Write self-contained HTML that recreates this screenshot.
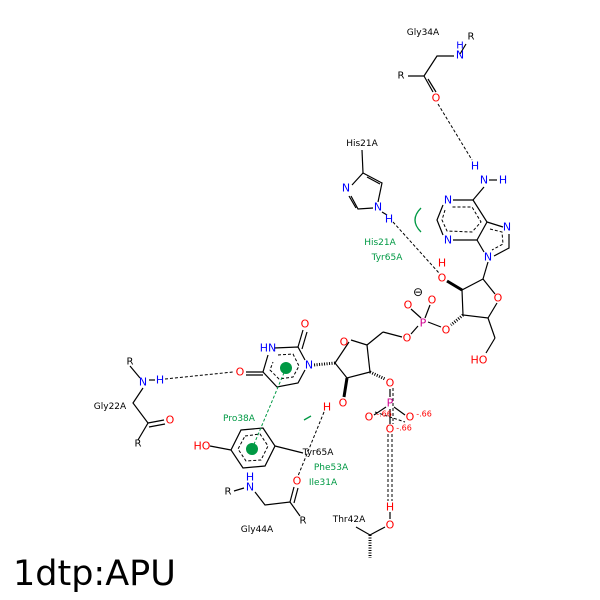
<!DOCTYPE html>
<html><head><meta charset="utf-8"><style>
html,body{margin:0;padding:0;background:#fff}
svg{display:block}
text{font-family:"DejaVu Sans","Liberation Sans",sans-serif}
.a{font-size:11px;text-anchor:middle;dominant-baseline:central}
.l{font-size:9px;text-anchor:middle;dominant-baseline:central}
.r{fill:#f00}.b{fill:#00f}.g{fill:#009944}.p{fill:#d0008f}
</style></head><body>
<svg width="600" height="600" viewBox="0 0 600 600" xmlns="http://www.w3.org/2000/svg">
<g stroke="#000" stroke-width="1.2" fill="none">
<polyline points="466,44 460,54"/><polyline points="454,56 437,56 424,76 408,76"/>
<line x1="424" y1="76" x2="433" y2="92"/><line x1="428" y1="79" x2="436" y2="92"/>
<line x1="484" y1="187" x2="473" y2="200"/><line x1="489" y1="180" x2="497" y2="180"/>
<polyline points="473,200 453,200"/><polyline points="443,205 437,220 443,235"/>
<polyline points="453,240 477,240 487,222 473,200"/>
<polyline points="487,222 503,227"/><polyline points="509,234 509,248 494,256"/><line x1="477" y1="240" x2="484" y2="252"/>
<line x1="488" y1="262" x2="483" y2="279"/>
<polyline points="483,279 495,294"/><polyline points="497,303 488,318 463,315 462,290 483,279"/>
<line x1="488" y1="318" x2="495" y2="338"/><line x1="495" y1="338" x2="486" y2="353"/>
<line x1="462" y1="290" x2="447" y2="281" stroke-width="3"/>
<line x1="463" y1="315" x2="451" y2="325" stroke-dasharray="1,1.5" stroke-width="3"/>
<line x1="441" y1="327" x2="428" y2="322"/>
<line x1="418" y1="326" x2="411" y2="334"/><line x1="421" y1="318" x2="411" y2="309"/><line x1="425" y1="318" x2="430" y2="305"/>
<line x1="402" y1="337" x2="383" y2="332"/>
<polyline points="383,332 367,345"/>
<polyline points="349,342 335,363 347,378 370,372 367,345 351,340"/>
<line x1="335" y1="363" x2="314" y2="365" stroke-dasharray="1,1.5" stroke-width="3"/>
<line x1="347" y1="378" x2="344" y2="397" stroke-width="3"/>
<line x1="370" y1="372" x2="385" y2="379" stroke-dasharray="1,1.5" stroke-width="3"/>
<polyline points="305,360 298,347 274,348"/><line x1="298" y1="347" x2="303" y2="330"/><line x1="302" y1="349" x2="307" y2="332"/>
<polyline points="268,355 263,372 277,387 298,383 305,370"/>
<line x1="263" y1="372" x2="246" y2="372"/><line x1="263" y1="375" x2="246" y2="375"/>
<line x1="130" y1="366" x2="140" y2="378"/><line x1="149" y1="380" x2="155" y2="380"/>
<polyline points="143,388 133,403 148,423 138,440"/><line x1="148" y1="423" x2="164" y2="420"/><line x1="149" y1="427" x2="165" y2="424"/>
<polygon points="241,430 263,428 275,446 265,466 243,468 231,450"/>
<line x1="231" y1="450" x2="210" y2="446"/><line x1="275" y1="446" x2="303" y2="453"/>
<line x1="234" y1="491" x2="244" y2="488"/><polyline points="255,492 265,505 290,502 300,516"/>
<line x1="290" y1="502" x2="294" y2="487"/><line x1="294" y1="503" x2="298" y2="488"/>
<line x1="390" y1="389" x2="390" y2="397"/><line x1="386" y1="407" x2="374" y2="415"/><line x1="394" y1="407" x2="405" y2="415"/><line x1="390" y1="409" x2="390" y2="424"/>
<polyline points="356,527 370,535 385,527"/><line x1="370" y1="535" x2="370" y2="558" stroke-dasharray="1,1.5" stroke-width="3"/>
<line x1="390" y1="512" x2="390" y2="519"/>
<line x1="362" y1="150" x2="363" y2="173"/>
<polyline points="352,185 363,173 382,183 378,202"/><polyline points="373,208 358,209 351,196"/>
<line x1="367" y1="177" x2="380" y2="184"/><line x1="349" y1="196" x2="356" y2="208"/>
<line x1="382" y1="212" x2="387" y2="215"/>
</g>
<g stroke="#000" stroke-width="1" fill="none" stroke-dasharray="3,2">
<polyline points="445,210 442,220 447,231 472,232 481,222 472,207 451,207"/>
<polyline points="490,229 502,232 503,244 492,250"/>
<polyline points="278,355 293,354 299,366 293,377 279,379 270,370 273,362"/>
<polygon points="245,436 260,434 268,446 261,460 246,461 238,449"/>
</g>
<g stroke="#000" stroke-width="1" stroke-dasharray="3,2" fill="none">
<line x1="438" y1="104" x2="472" y2="160"/>
<line x1="393" y1="222" x2="439" y2="273"/>
<line x1="165" y1="379" x2="233" y2="372"/>
<line x1="324" y1="412" x2="298" y2="476"/>
<line x1="388" y1="434" x2="388" y2="501"/><line x1="392" y1="434" x2="392" y2="501"/>
<line x1="393" y1="388" x2="393" y2="424"/>
<line x1="375" y1="412" x2="405" y2="422"/>
</g>
<line x1="286" y1="368" x2="252" y2="449" stroke="#009944" stroke-width="1" stroke-dasharray="3,2"/>
<circle cx="286" cy="368" r="6" fill="#009944"/><circle cx="252" cy="449" r="6" fill="#009944"/>
<path d="M421,208 Q409,220 421,232" stroke="#009944" stroke-width="1.3" fill="none"/>
<line x1="304" y1="420" x2="311" y2="416" stroke="#009944" stroke-width="1.3"/>
<g class="a">
<text x="460" y="55" class="b">N</text><text x="460" y="46" class="b" font-size="10">H</text><text x="471" y="37" font-size="10">R</text><text x="401" y="76" font-size="10">R</text>
<text x="436" y="98" class="r">O</text>
<text x="475" y="166" class="b">H</text><text x="484" y="180" class="b">N</text><text x="503" y="180" class="b">H</text>
<text x="448" y="200" class="b">N</text><text x="448" y="240" class="b">N</text><text x="507" y="227" class="b">N</text><text x="488" y="257" class="b">N</text>
<text x="498" y="298" class="r">O</text><text x="442" y="278" class="r">O</text><text x="442" y="263" class="r">H</text>
<text x="446" y="330" class="r">O</text><text x="423" y="323" class="p">P</text><text x="408" y="305" class="r">O</text><text x="432" y="300" class="r">O</text>
<text x="418" y="292" font-size="12">⊖</text><text x="407" y="338" class="r">O</text><text x="479" y="360" class="r">HO</text>
<text x="344" y="342" class="r">O</text><text x="309" y="365" class="b">N</text><text x="305" y="324" class="r">O</text>
<text x="268" y="348" class="b">HN</text><text x="240" y="372" class="r">O</text>
<text x="343" y="403" class="r">O</text><text x="327" y="407" class="r">H</text>
<text x="390" y="383" class="r">O</text><text x="390" y="403" class="p">P</text>
<text x="369" y="417" class="r">O</text><text x="410" y="417" class="r">O</text><text x="390" y="429" class="r">O</text>
<text x="390" y="507" class="r">H</text><text x="390" y="525" class="r">O</text>
<text x="130" y="362" font-size="10">R</text><text x="143" y="382" class="b">N</text><text x="160" y="380" class="b">H</text>
<text x="170" y="420" class="r">O</text><text x="138" y="444" font-size="10">R</text>
<text x="202" y="446" class="r">HO</text>
<text x="297" y="481" class="r">O</text><text x="303" y="521" font-size="10">R</text>
<text x="250" y="487" class="b">N</text><text x="250" y="477" class="b">H</text><text x="228" y="492" font-size="10">R</text>
<text x="346" y="188" class="b">N</text><text x="378" y="207" class="b">N</text><text x="389" y="219" class="b">H</text>
</g>
<g class="l">
<text x="423" y="33">Gly34A</text><text x="362" y="144">His21A</text><text x="110" y="407">Gly22A</text>
<text x="318" y="453">Tyr65A</text><text x="257" y="530">Gly44A</text><text x="349" y="520">Thr42A</text>
<text x="380" y="243" class="g">His21A</text><text x="387" y="258" class="g">Tyr65A</text>
<text x="239" y="419" class="g">Pro38A</text><text x="331" y="468" class="g">Phe53A</text><text x="323" y="483" class="g">Ile31A</text>
<text x="384" y="414" class="r" font-size="8">-.66</text><text x="424" y="414" class="r" font-size="8">-.66</text><text x="404" y="428" class="r" font-size="8">-.66</text>
</g>
<text x="13" y="585" font-size="35" fill="#000">1dtp:APU</text>
</svg>
</body></html>
